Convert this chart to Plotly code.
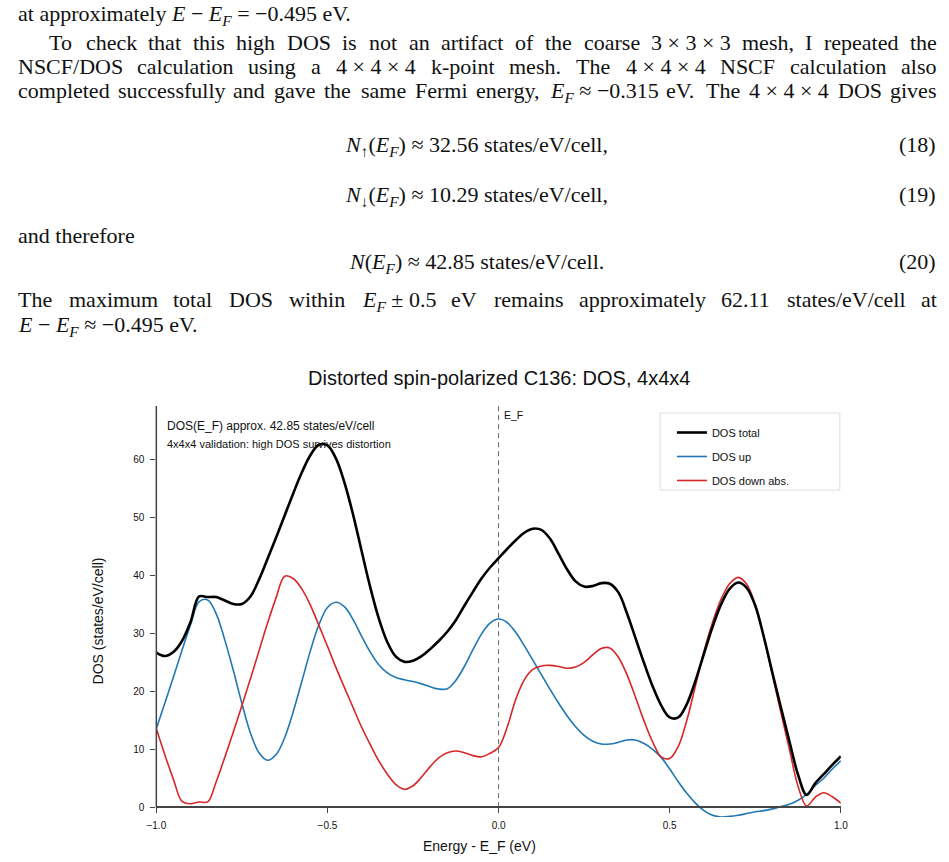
import re
import plotly.graph_objects as go

W, H = 949, 862

# ---------------- data ----------------
energy = [-1.000, -0.975, -0.950, -0.925, -0.900, -0.875, -0.850, -0.825, -0.800, -0.775,
          -0.750, -0.725, -0.700, -0.675, -0.650, -0.625, -0.600, -0.575, -0.550, -0.525,
          -0.500, -0.475, -0.450, -0.425, -0.400, -0.375, -0.350, -0.325, -0.300, -0.275,
          -0.250, -0.225, -0.200, -0.175, -0.150, -0.125, -0.100, -0.075, -0.050, -0.025,
          0.000, 0.025, 0.050, 0.075, 0.100, 0.125, 0.150, 0.175, 0.200, 0.225,
          0.250, 0.275, 0.300, 0.325, 0.350, 0.375, 0.400, 0.425, 0.450, 0.475,
          0.500, 0.525, 0.550, 0.575, 0.600, 0.625, 0.650, 0.675, 0.700, 0.725,
          0.750, 0.775, 0.800, 0.825, 0.850, 0.875, 0.900, 0.925, 0.950, 0.975, 1.000]

dos_up = [13.6, 18.0, 22.5, 27.1, 31.5, 35.5, 35.8, 33.4, 28.9, 23.6,
          17.9, 12.8, 9.4, 8.1, 9.1, 12.0, 16.5, 21.7, 27.0, 31.5,
          34.5, 35.4, 34.6, 32.4, 29.5, 26.8, 24.6, 23.2, 22.4, 22.0,
          21.7, 21.3, 20.8, 20.4, 20.45, 21.9, 24.3, 27.2, 29.9, 31.8,
          32.5, 31.9, 30.2, 27.9, 25.4, 22.9, 20.4, 18.0, 15.8, 13.9,
          12.4, 11.4, 10.9, 10.9, 11.2, 11.6, 11.6, 11.0, 10.0, 8.6,
          6.6, 4.4, 2.4, 0.7, -0.6, -1.4, -1.7, -1.6, -1.4, -1.1,
          -0.8, -0.6, -0.3, 0.1, 0.5, 1.2, 2.2, 3.7, 5.0, 6.6, 8.0]

dos_down_abs = [13.6, 9.0, 4.8, 1.0, 0.6, 0.9, 0.9, 4.4, 8.6, 13.0,
                17.5, 22.2, 27.0, 31.8, 36.2, 39.9, 39.5, 37.7, 34.9, 31.4,
                27.8, 24.1, 20.6, 17.2, 13.8, 10.8, 8.0, 5.7, 3.9, 3.1,
                3.7, 5.2, 7.0, 8.5, 9.4, 9.7, 9.4, 8.9, 8.7, 9.3,
                10.3, 13.8, 18.6, 22.0, 23.8, 24.4, 24.5, 24.3, 24.0, 24.2,
                25.0, 26.3, 27.4, 27.5, 25.9, 22.9, 19.0, 14.9, 11.3, 8.7,
                8.4, 10.5, 15.0, 20.9, 26.9, 31.9, 35.9, 38.6, 39.7, 38.5,
                34.9, 29.4, 22.9, 16.3, 9.9, 3.6, 0.2, 1.7, 2.5, 1.8, 0.7]

dos_total = [26.7, 26.1, 26.8, 28.7, 32.0, 36.4, 36.3, 36.3, 35.7, 35.1,
             35.1, 36.4, 39.3, 42.9, 46.6, 50.4, 54.2, 57.8, 60.8, 62.6,
             62.5, 60.2, 56.0, 50.5, 44.2, 38.0, 32.6, 28.5, 26.0, 25.1,
             25.3, 26.1, 27.3, 28.7, 30.3, 32.3, 34.8, 37.2, 39.5, 41.4,
             43.0, 44.6, 46.1, 47.4, 48.1, 47.9, 46.4, 43.8, 41.1, 39.0,
             38.1, 38.2, 38.7, 38.6, 37.1, 33.5, 29.2, 24.9, 20.9, 17.6,
             15.5, 15.5, 17.8, 21.8, 26.5, 31.1, 35.0, 37.7, 38.8, 37.9,
             34.8, 29.4, 23.2, 17.2, 11.3, 5.6, 2.1, 4.1, 5.7, 7.3, 8.8]

x_ticks = [-1.0, -0.5, 0.0, 0.5, 1.0]
y_ticks = [0, 10, 20, 30, 40, 50, 60]
x_range = [-1.0, 1.0]
y_range = [-1.7, 69.3]
fermi_level = 0.0

series_names = ["DOS total", "DOS up", "DOS down abs."]
chart_title = "Distorted spin-polarized C136: DOS, 4x4x4"
x_title = "Energy - E_F (eV)"
y_title = "DOS (states/eV/cell)"
note_1 = "DOS(E_F) approx. 42.85 states/eV/cell"
note_2 = "4x4x4 validation: high DOS survives distortion"
fermi_label = "E_F"

EF = "<i>E</i><sub><i>F</i></sub>"
doc_line1 = ["at approximately <i>E</i> − " + EF + " = −0.495 eV."]
doc_line2 = ["To", "check", "that", "this", "high", "DOS", "is", "not", "an", "artifact", "of",
             "the", "coarse", "3 × 3 × 3", "mesh,", "I", "repeated", "the"]
doc_line3 = ["NSCF/DOS", "calculation", "using", "a", "4 × 4 × 4", "k-point", "mesh.", "The",
             "4 × 4 × 4", "NSCF", "calculation", "also"]
doc_line4 = ["completed", "successfully", "and", "gave", "the", "same", "Fermi", "energy,",
             EF + " ≈ −0.315", "eV.", "The", "4 × 4 × 4", "DOS", "gives"]
eq18 = "<i>N</i><sub>↑</sub>(" + EF + ") ≈ 32.56 states/eV/cell,"
eq19 = "<i>N</i><sub>↓</sub>(" + EF + ") ≈ 10.29 states/eV/cell,"
eq20 = "<i>N</i>(" + EF + ") ≈ 42.85 states/eV/cell."
eq_numbers = ["(18)", "(19)", "(20)"]
doc_and = ["and therefore"]
doc_line5 = ["The", "maximum", "total", "DOS", "within", EF + " ± 0.5", "eV", "remains",
             "approximately", "62.11", "states/eV/cell", "at"]
doc_line6 = ["<i>E</i> − " + EF + " ≈ −0.495 eV."]

# ---------------- helpers ----------------
def px(x):
    return x / W


def py(y):
    return 1 - y / H


ROMAN = {' ': 250, '!': 333, '(': 333, ')': 333, ',': 250, '-': 333, '.': 250, '/': 278,
         ':': 278, '=': 564, '+': 564, '×': 564, '−': 564, '≈': 549, '±': 564, '↑': 500, '↓': 500,
         'A': 722, 'B': 667, 'C': 667, 'D': 722, 'E': 611, 'F': 556, 'G': 722, 'H': 722,
         'I': 333, 'J': 389, 'K': 722, 'L': 611, 'M': 889, 'N': 722, 'O': 722, 'P': 556,
         'Q': 722, 'R': 667, 'S': 556, 'T': 611, 'U': 722, 'V': 722, 'W': 944, 'X': 722,
         'Y': 722, 'Z': 611,
         'a': 444, 'b': 500, 'c': 444, 'd': 500, 'e': 444, 'f': 333, 'g': 500, 'h': 500,
         'i': 278, 'j': 278, 'k': 500, 'l': 278, 'm': 778, 'n': 500, 'o': 500, 'p': 500,
         'q': 500, 'r': 333, 's': 389, 't': 278, 'u': 500, 'v': 500, 'w': 722, 'x': 500,
         'y': 500, 'z': 444}
for d in "0123456789":
    ROMAN[d] = 500
ITALIC = {'E': 611, 'F': 611, 'N': 667}
TAG = re.compile(r'(<[^>]+>)')

DOC_FONT = "Liberation Serif"
FS = 22
ASC = 0.891
SANS = "Liberation Sans"


def text_width(html, size):
    w, sub, ital = 0.0, 0, 0
    for part in TAG.split(html):
        if not part:
            continue
        if part.startswith('<'):
            name = part.strip('<>/ ').lower()
            step = -1 if part.startswith('</') else 1
            if name == 'sub':
                sub += step
            elif name == 'i':
                ital += step
            continue
        for ch in part:
            m = ITALIC.get(ch) if ital else None
            if m is None:
                m = ROMAN.get(ch, 500)
            w += m / 1000.0 * size * (0.7 if sub else 1.0)
    return w


annotations = []


def doc_text(html, x, baseline, anchor="left"):
    annotations.append(dict(
        text=html, x=px(x), y=py(baseline - ASC * FS), xref="paper", yref="paper",
        xanchor=anchor, yanchor="top", showarrow=False, borderpad=0, borderwidth=0,
        font=dict(family=DOC_FONT, size=FS, color="#111111")))


def doc_justified(tokens, left, right, baseline):
    widths = [text_width(t, FS) for t in tokens]
    gap = (right - left - sum(widths)) / (len(tokens) - 1)
    x = left
    for t, w in zip(tokens, widths):
        doc_text(t, x, baseline)
        x += w + gap


LEFT, RIGHT, INDENT = 8, 943, 40
doc_text(doc_line1[0], LEFT, 20.7)
doc_justified(doc_line2, INDENT, RIGHT, 49.5)
doc_justified(doc_line3, LEFT, RIGHT, 73.8)
doc_justified(doc_line4, LEFT, RIGHT, 98.0)
CENTER = (LEFT + RIGHT) / 2
for eq, num, bl in [(eq18, eq_numbers[0], 152), (eq19, eq_numbers[1], 202), (eq20, eq_numbers[2], 269)]:
    doc_text(eq, CENTER, bl, "center")
    doc_text(num, RIGHT, bl, "right")
doc_text(doc_and[0], LEFT, 243)
doc_justified(doc_line5, LEFT, RIGHT, 307)
doc_text(doc_line6[0], LEFT, 331.5)

# ---------------- chart ----------------
PL, PR, PT, PB = 149, 846, 406, 817
dom_x = [px(PL), px(PR)]
dom_y = [py(PB), py(PT)]
zero_pos = dom_y[0] + (0 - y_range[0]) / (y_range[1] - y_range[0]) * (dom_y[1] - dom_y[0])

fig = go.Figure()
fig.add_trace(go.Scatter(x=energy, y=dos_up, mode="lines", name=series_names[1],
                         line=dict(color="#1f77b4", width=1.6, shape="spline", smoothing=1.0),
                         legendrank=2, legendgroup="b"))
fig.add_trace(go.Scatter(x=energy, y=dos_down_abs, mode="lines", name=series_names[2],
                         line=dict(color="#d62728", width=1.6, shape="spline", smoothing=1.0),
                         legendrank=3, legendgroup="c"))
fig.add_trace(go.Scatter(x=energy, y=dos_total, mode="lines", name=series_names[0],
                         line=dict(color="#000000", width=2.6, shape="spline", smoothing=1.0),
                         legendrank=1, legendgroup="a"))

axis_col = "#444444"
shapes = [
    dict(type="line", xref="paper", yref="y", x0=dom_x[0], x1=dom_x[0], y0=0, y1=y_range[1],
         line=dict(color=axis_col, width=1.5), layer="above"),
    dict(type="line", xref="x", yref="y", x0=fermi_level, x1=fermi_level, y0=0, y1=y_range[1],
         line=dict(color="#666666", width=1, dash="5px,4px"), layer="below"),
    dict(type="rect", xref="paper", yref="paper", x0=px(662), x1=px(845), y0=py(490), y1=py(413),
         line=dict(color="#dddddd", width=1), fillcolor="white", layer="below"),
]

annotations += [
    dict(text=chart_title, x=px(497.5), y=py(378), xref="paper", yref="paper",
         xanchor="center", yanchor="middle", showarrow=False, borderpad=0,
         font=dict(family=SANS, size=20, color="#111111")),
    dict(text=x_title, x=px(478), y=py(846), xref="paper", yref="paper",
         xanchor="center", yanchor="middle", showarrow=False, borderpad=0,
         font=dict(family=SANS, size=14, color="#111111")),
    dict(text=y_title, x=px(90), y=py(621), xref="paper", yref="paper", textangle=-90,
         xanchor="center", yanchor="middle", showarrow=False, borderpad=0,
         font=dict(family=SANS, size=14, color="#111111")),
    dict(text=note_1, x=px(159), y=py(425.5), xref="paper", yref="paper",
         xanchor="left", yanchor="middle", showarrow=False, borderpad=0,
         font=dict(family=SANS, size=12, color="#111111")),
    dict(text=note_2, x=px(159), y=py(444), xref="paper", yref="paper",
         xanchor="left", yanchor="middle", showarrow=False, borderpad=0,
         font=dict(family=SANS, size=11, color="#111111")),
    dict(text=fermi_label, x=px(502), y=py(415), xref="paper", yref="paper",
         xanchor="left", yanchor="middle", showarrow=False, borderpad=0,
         font=dict(family=SANS, size=10.5, color="#111111")),
]

fig.update_layout(
    width=W, height=H, autosize=False,
    margin=dict(l=0, r=0, t=0, b=0, pad=0),
    paper_bgcolor="white", plot_bgcolor="white",
    showlegend=True,
    legend=dict(x=px(674), y=py(418), xanchor="left", yanchor="top",
                bgcolor="rgba(0,0,0,0)", borderwidth=0, tracegroupgap=5,
                font=dict(family=SANS, size=11, color="#111111"), itemwidth=30),
    xaxis=dict(domain=dom_x, range=x_range, anchor="free", position=zero_pos,
               showgrid=False, zeroline=False, showline=True, linecolor=axis_col, linewidth=1.5,
               ticks="outside", ticklen=5, tickwidth=1.2, tickcolor=axis_col,
               tickvals=x_ticks, tickformat=".1f", ticklabelstandoff=4,
               tickfont=dict(family=SANS, size=10, color="#111111")),
    yaxis=dict(domain=dom_y, range=y_range, showgrid=False, zeroline=False, showline=False,
               ticks="outside", ticklen=5, tickwidth=1.2, tickcolor=axis_col,
               tickvals=y_ticks, ticklabelstandoff=4,
               tickfont=dict(family=SANS, size=10, color="#111111")),
    shapes=shapes,
    annotations=annotations,
    font=dict(family=SANS),
)

fig.write_html("out.html")
